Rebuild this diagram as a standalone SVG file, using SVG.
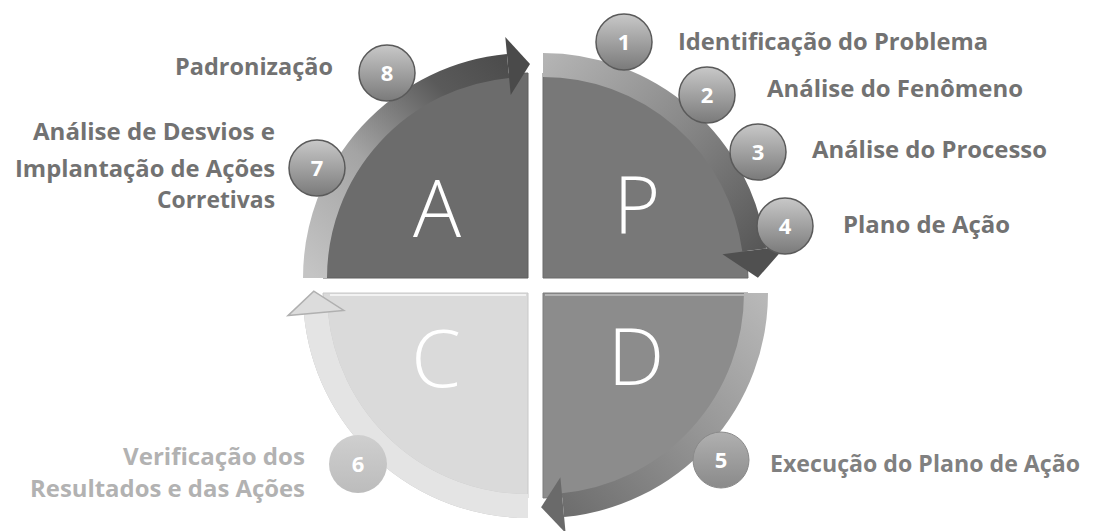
<svg xmlns="http://www.w3.org/2000/svg" width="1096" height="531" viewBox="0 0 1096 531">
<style>
.big{font-family:"Open Sans","Liberation Sans",sans-serif;font-weight:300;font-size:80px;fill:#ffffff;text-anchor:middle}
.num{font-family:"Open Sans","Liberation Sans",sans-serif;font-weight:700;font-size:22px;fill:#ffffff;text-anchor:middle}
.lbl{font-family:"Open Sans","Liberation Sans",sans-serif;font-weight:700;font-size:23px;fill:#727272}
.lblr{font-family:"Open Sans","Liberation Sans",sans-serif;font-weight:700;font-size:23px;fill:#727272;text-anchor:end}
.band{fill:none;stroke-width:24}
.ball{stroke:#5a5a5a;stroke-width:1.5}
</style>
<defs>
<linearGradient id="gA" gradientUnits="userSpaceOnUse" x1="315" y1="278" x2="520" y2="60">
<stop offset="0" stop-color="#c4c4c4"/><stop offset="0.4" stop-color="#a4a4a4"/><stop offset="0.75" stop-color="#5a5a5a"/><stop offset="1" stop-color="#4a4a4a"/>
</linearGradient>
<linearGradient id="gP" gradientUnits="userSpaceOnUse" x1="543" y1="60" x2="760" y2="280">
<stop offset="0" stop-color="#b4b4b4"/><stop offset="0.45" stop-color="#8a8a8a"/><stop offset="1" stop-color="#505050"/>
</linearGradient>
<linearGradient id="gD" gradientUnits="userSpaceOnUse" x1="760" y1="293" x2="543" y2="510">
<stop offset="0" stop-color="#b8b8b8"/><stop offset="0.4" stop-color="#9a9a9a"/><stop offset="1" stop-color="#6a6a6a"/>
</linearGradient>
<linearGradient id="gBall" x1="0" y1="0" x2="0" y2="1">
<stop offset="0" stop-color="#c8c8c8"/><stop offset="1" stop-color="#7a7a7a"/>
</linearGradient>
<linearGradient id="gBall5" x1="0" y1="0" x2="0" y2="1">
<stop offset="0" stop-color="#b0b0b0"/><stop offset="1" stop-color="#8a8a8a"/>
</linearGradient>
<linearGradient id="gBall6" x1="0" y1="0" x2="0" y2="1">
<stop offset="0" stop-color="#cfcfcf"/><stop offset="1" stop-color="#bcbcbc"/>
</linearGradient>
</defs>
<rect width="1096" height="531" fill="#ffffff"/>

<g id="quadrant-A">
<path d="M 528 278 L 323 278 A 205 205 0 0 1 528 73 Z" fill="#6c6c6c" stroke="#5e5e5e" stroke-width="1"/>
<text class="big" x="437" y="237">A</text>
</g>
<g id="quadrant-P">
<path d="M 543 278 L 543 73 A 205 205 0 0 1 748 278 Z" fill="#787878" stroke="#6a6a6a" stroke-width="1"/>
<text class="big" x="637" y="233">P</text>
</g>
<g id="quadrant-D">
<path d="M 543 293 L 748 293 A 205 205 0 0 1 543 498 Z" fill="#8c8c8c" stroke="#7c7c7c" stroke-width="1"/>
<line x1="545" y1="295" x2="745" y2="295" stroke="#b4b4b4" stroke-width="2"/>
<text class="big" x="636" y="385">D</text>
</g>
<g id="quadrant-C">
<path d="M 528 293 L 528 498 A 205 205 0 0 1 323 293 Z" fill="#dadada" stroke="#c8c8c8" stroke-width="1"/>
<line x1="330" y1="295" x2="526" y2="295" stroke="#f2f2f2" stroke-width="2"/>
<text class="big" x="436" y="387">C</text>
</g>

<g id="connectors">
<path class="band" d="M 315 278 A 213 213 0 0 1 508 66" stroke="url(#gA)"/>
<polygon points="505.3,37.1 530,64 510.7,94.9" fill="#4a4a4a"/>
<path class="band" d="M 543 65 A 213 213 0 0 1 754.2 250" stroke="url(#gP)" stroke-width="22"/>
<polygon points="786,245.8 757.9,277.8 722.5,254.2" fill="#505050"/>
<path class="band" d="M 756 293 A 213 213 0 0 1 563 505.1" stroke="url(#gD)"/>
<polygon points="565.6,533 541.1,507.2 560.4,477.2" fill="#6a6a6a"/>
<path class="band" d="M 528 506 A 213 213 0 0 1 315.9 313" stroke="#bdbdbd" stroke-width="24"/>
<path class="band" d="M 528 506 A 213 213 0 0 1 315.9 313" stroke="#e4e4e4" stroke-width="18"/>
<polygon points="288,315.6 313.8,291.1 343.8,310.4" fill="#dcdcdc" stroke="#b0b0b0" stroke-width="1.5"/>
</g>

<g id="step-1"><circle class="ball" cx="624" cy="42" r="28" fill="url(#gBall)"/><text class="num" x="624" y="50">1</text>
<text class="lbl" x="678" y="50" textLength="310" lengthAdjust="spacingAndGlyphs">Identificação do Problema</text></g>
<g id="step-2"><circle class="ball" cx="707" cy="95" r="28" fill="url(#gBall)"/><text class="num" x="707" y="103">2</text>
<text class="lbl" x="767" y="97" textLength="256" lengthAdjust="spacingAndGlyphs">Análise do Fenômeno</text></g>
<g id="step-3"><circle class="ball" cx="758" cy="152" r="28" fill="url(#gBall)"/><text class="num" x="758" y="160">3</text>
<text class="lbl" x="812" y="158" textLength="235" lengthAdjust="spacingAndGlyphs">Análise do Processo</text></g>
<g id="step-4"><circle class="ball" cx="785" cy="226" r="28" fill="url(#gBall)"/><text class="num" x="785" y="234">4</text>
<text class="lbl" x="843" y="233" textLength="167" lengthAdjust="spacingAndGlyphs">Plano de Ação</text></g>
<g id="step-5"><circle cx="721" cy="460" r="28" fill="url(#gBall5)" stroke="#8a8a8a" stroke-width="1"/><text class="num" x="721" y="468">5</text>
<text class="lbl" x="770" y="472" textLength="310" lengthAdjust="spacingAndGlyphs" style="fill:#808080">Execução do Plano de Ação</text></g>
<g id="step-6"><circle cx="358" cy="464" r="29" fill="url(#gBall6)"/><text class="num" x="358" y="472">6</text>
<text class="lblr" x="305" y="465" textLength="182" lengthAdjust="spacingAndGlyphs" style="fill:#b2b2b2">Verificação dos</text>
<text class="lblr" x="305" y="497" textLength="275" lengthAdjust="spacingAndGlyphs" style="fill:#b2b2b2">Resultados e das Ações</text></g>
<g id="step-7"><circle class="ball" cx="317" cy="168" r="28" fill="url(#gBall)"/><text class="num" x="317" y="176">7</text>
<text class="lblr" x="275" y="140" textLength="242" lengthAdjust="spacingAndGlyphs">Análise de Desvios e</text>
<text class="lblr" x="275" y="177" textLength="260" lengthAdjust="spacingAndGlyphs">Implantação de Ações</text>
<text class="lblr" x="275" y="208" textLength="118" lengthAdjust="spacingAndGlyphs">Corretivas</text></g>
<g id="step-8"><circle class="ball" cx="387" cy="73" r="28" fill="url(#gBall)"/><text class="num" x="387" y="81">8</text>
<text class="lblr" x="333" y="75" textLength="158" lengthAdjust="spacingAndGlyphs">Padronização</text></g>
</svg>
